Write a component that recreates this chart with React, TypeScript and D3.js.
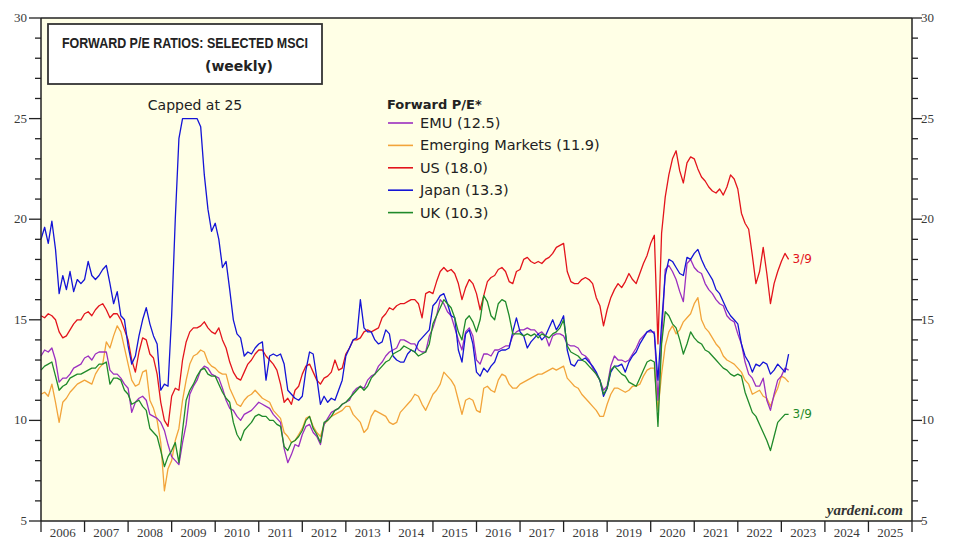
import React from 'react';
import * as d3 from 'd3';

// Monthly readings, Jan 2006 .. Mar 2023
const START_YEAR = 2006;

const emu = [
  13.2, 13.5, 13.4, 13.6, 13.0, 11.9, 12.1, 12.1, 12.3, 12.6, 12.7, 12.8,
  13.1, 13.2, 13.0, 13.3, 13.4, 13.4, 13.4, 12.5, 12.3, 12.3, 12.1, 11.8,
  11.6, 10.4, 10.9, 11.1, 11.2, 11.0, 10.3, 10.2, 10.1, 9.9, 9.5, 8.8,
  8.2, 8.0, 7.8, 8.9, 9.8, 11.3, 11.7, 12.0, 12.5, 12.7, 12.6, 12.3,
  12.2, 12.1, 11.6, 11.0, 10.6, 10.5, 10.2, 10.0, 10.3, 10.4, 10.5, 10.7,
  10.9, 10.8, 10.7, 10.6, 10.3, 10.1, 9.9, 8.6, 7.9, 8.3, 8.8, 8.7,
  9.3, 9.7, 9.8, 9.4, 9.2, 8.8, 9.8, 10.1, 10.4, 10.5, 10.6, 10.8,
  10.9, 11.0, 11.4, 11.6, 11.7, 11.6, 12.0, 12.2, 12.3, 12.7, 12.9, 13.2,
  13.4, 13.5, 13.6, 14.0, 14.0, 13.9, 13.8, 13.8, 13.5, 13.4, 13.4, 14.2,
  14.6, 15.2, 16.0, 15.8, 15.4, 15.2, 14.6, 14.0, 13.5, 14.4, 14.6, 14.2,
  13.0, 12.8, 13.3, 13.3, 13.2, 13.5, 13.5, 13.6, 13.7, 13.7, 14.2, 14.4,
  14.5, 14.5, 14.6, 14.5, 14.5, 14.3, 14.4, 14.2, 13.7, 14.2, 14.3, 14.3,
  14.2, 13.8, 13.7, 13.7, 13.6, 13.3, 13.2, 13.0, 12.6, 12.3, 12.0, 11.5,
  11.7, 12.7, 13.2, 13.0, 13.0, 12.9, 13.0, 13.3, 13.6, 14.0, 14.2, 14.4,
  14.4, 14.4, 11.0, 14.0, 17.5, 17.7, 17.4, 17.0, 16.4, 15.9, 17.8, 18.0,
  17.6, 17.4, 17.3, 16.8, 16.5, 16.3, 16.0, 15.8, 15.7, 15.2, 15.0, 14.9,
  14.3, 13.8, 12.9, 12.3, 12.1, 11.7, 11.7, 12.1, 11.0, 10.5, 11.3, 12.0,
  12.2, 12.6, 12.5,
];

const emergingMarkets = [
  11.3, 11.4, 11.2, 11.8, 10.9, 9.9, 10.9, 11.1, 11.4, 11.6, 11.8, 11.9,
  12.0, 11.9, 11.8, 12.3, 12.6, 12.8, 13.9, 13.6, 14.2, 14.7, 14.4, 13.6,
  12.8, 12.0, 11.7, 11.8, 12.4, 12.5, 11.0, 10.6, 10.0, 8.9, 6.5, 7.6,
  8.0, 9.0, 9.6, 11.0, 12.0, 12.8, 13.2, 13.3, 13.5, 13.4, 12.9, 12.7,
  12.6, 12.4, 12.3, 12.3, 11.6, 11.2, 10.8, 10.7, 11.0, 11.2, 11.3, 11.5,
  11.3, 11.1, 11.0, 10.9, 10.5, 10.3, 10.1, 9.4, 9.2, 8.9, 9.0, 9.3,
  9.6, 10.1, 10.2, 9.7, 9.4, 9.2, 9.8, 10.0, 10.2, 10.3, 10.4, 10.5,
  10.7, 10.7, 10.3, 10.1, 9.9, 9.4, 9.6, 10.2, 10.5, 10.4, 10.3, 10.2,
  9.9, 9.8, 9.9, 10.4, 10.6, 10.8, 11.0, 11.3, 11.2, 10.8, 10.5, 10.9,
  11.3, 11.5, 11.8, 12.4, 12.2, 12.0, 11.7, 11.0, 10.3, 11.0, 11.1, 11.0,
  10.5, 10.4, 11.6, 11.7, 11.5, 11.4, 12.0, 12.3, 12.2, 11.8, 11.6, 11.6,
  11.8, 11.9, 12.0, 12.1, 12.2, 12.3, 12.3, 12.4, 12.5, 12.6, 12.5, 12.6,
  12.7, 12.1, 11.9, 11.7, 11.6, 11.3, 11.1, 10.9, 10.7, 10.5, 10.2, 10.2,
  10.8, 11.3, 11.6, 11.6, 11.5, 11.4, 11.5, 11.7, 11.7, 11.8, 12.2, 12.5,
  12.6, 12.6, 10.5, 12.3, 13.7, 14.4, 14.7, 14.3, 14.5, 14.9, 15.1, 15.3,
  15.8, 16.1, 15.0, 14.6, 14.4, 14.1, 13.8, 13.6, 13.2, 13.0, 12.9, 12.8,
  12.6, 12.4, 12.0, 11.8, 11.3, 11.4, 11.5, 11.2, 11.1, 10.7, 11.2, 11.6,
  12.2, 12.1, 11.9,
];

const us = [
  15.2, 15.1, 15.3, 15.2, 15.0, 14.4, 14.1, 14.2, 14.5, 14.8, 15.0, 15.0,
  15.3, 15.4, 15.2, 15.5, 15.7, 15.8, 15.5, 15.1, 15.3, 15.3, 15.0, 14.5,
  14.0, 13.0, 12.4, 13.4, 14.1, 14.0, 13.3, 13.1, 12.3, 10.9, 10.0, 9.7,
  11.2, 11.6, 11.5, 13.0, 13.9, 14.4, 14.6, 14.6, 14.7, 14.9, 14.6, 14.4,
  14.3, 14.6, 14.0, 13.6, 12.9, 12.4, 12.1, 12.0, 12.4, 12.8, 13.0, 13.3,
  13.5, 13.5, 13.2, 13.0, 12.8, 12.5, 11.8, 10.9, 11.1, 10.8, 11.5, 11.7,
  12.3, 12.7, 12.8, 12.4, 12.0, 11.8, 12.1, 12.2, 12.4, 13.0, 12.5, 12.6,
  13.3, 13.6, 14.0, 14.0, 14.1, 14.4, 14.5, 14.4, 14.5, 14.6, 15.1, 15.3,
  15.6, 15.5, 15.7, 15.8, 15.8, 15.9, 16.0, 16.0, 15.8, 15.1, 16.3, 16.4,
  16.3, 16.9, 17.4, 17.6, 17.4, 17.5, 17.3, 16.8, 16.0, 16.6, 17.0, 16.8,
  16.3, 15.5, 16.2, 16.9, 17.1, 17.2, 17.5, 17.6, 17.4, 16.9, 16.8, 17.4,
  17.5, 18.0, 18.1, 17.9, 17.8, 17.9, 17.8, 18.0, 18.1, 18.3, 18.6, 18.7,
  18.8, 17.4, 16.9, 16.8, 16.8, 17.0, 17.1, 17.0, 16.8, 16.1, 15.7, 14.7,
  15.5, 16.1, 16.5, 16.8, 16.6, 16.9, 17.3, 17.0, 16.8, 17.3, 17.8, 18.2,
  18.8, 19.2, 13.8, 19.3, 21.1, 22.2, 23.0, 23.4, 22.4, 21.8, 22.8, 23.1,
  23.0, 22.5, 22.1, 21.9, 21.6, 21.4, 21.3, 21.5, 21.2, 21.6, 22.2, 22.0,
  21.5, 20.3, 19.8, 19.5, 18.2, 16.8, 17.4, 18.6, 17.3, 15.8, 16.8, 17.4,
  17.9, 18.3, 18.0,
];

const japan = [
  19.0, 19.6, 18.8, 19.9, 18.5, 16.3, 17.2, 16.5, 17.4, 16.4, 17.0, 16.8,
  17.0, 17.9, 17.2, 17.0, 17.2, 17.5, 17.7, 16.8, 15.8, 16.4, 15.2, 15.0,
  13.7, 12.8, 13.2, 14.2, 15.0, 15.6, 14.8, 14.2, 13.8, 11.5, 11.8, 11.7,
  15.2, 20.0, 24.0, 25.0, 25.0, 25.0, 25.0, 25.0, 24.6, 22.2, 20.5, 19.4,
  19.8, 19.0, 17.6, 17.9, 16.5, 15.0, 14.3, 14.1, 13.2, 13.4, 13.3, 13.6,
  13.8, 13.9, 12.0, 13.2, 13.3, 13.2, 13.3, 12.8, 11.5, 11.3, 11.1, 11.0,
  11.2, 12.5, 13.4, 13.3, 12.1, 10.8, 11.2, 10.9, 11.1, 11.0, 11.5, 12.0,
  13.2, 13.6, 14.0, 14.1, 16.0, 14.6, 14.4, 14.4, 14.0, 13.8, 13.9, 14.5,
  14.3, 13.2, 13.0, 12.9, 12.9, 13.3, 13.5, 13.4, 13.9, 14.1, 14.3, 14.5,
  15.7, 15.9, 16.2, 16.3, 15.8, 15.2, 15.1, 13.5, 12.9, 14.3, 14.5, 13.8,
  12.4, 12.2, 12.6, 12.4, 12.7, 12.9, 13.4, 13.5, 13.5, 13.6, 14.4, 15.1,
  14.4, 14.2, 13.6, 13.9, 14.1, 14.3, 14.0, 14.2, 14.6, 15.0, 14.5, 14.8,
  15.2, 13.5, 12.8, 12.7, 13.0, 13.0, 13.1, 12.9, 12.7, 12.4, 12.0, 11.2,
  11.6, 12.4, 12.7, 12.7, 12.8, 12.4, 12.9, 13.2, 13.4, 13.8, 14.1, 14.4,
  14.5, 14.3, 12.0, 14.8, 17.2, 18.0, 17.9, 17.6, 17.3, 17.2, 18.1, 18.0,
  18.3, 18.5, 18.0, 17.6, 17.3, 17.0, 16.5, 16.3, 15.9, 15.5, 15.2, 15.0,
  14.8, 13.8, 13.2, 12.9, 12.4, 12.8, 12.7, 12.9, 12.8, 12.3, 12.5, 12.8,
  12.6, 12.4, 13.3,
];

const uk = [
  12.5, 12.7, 12.8, 12.9, 12.2, 11.5, 11.7, 11.8, 12.1, 12.2, 12.3, 12.3,
  12.4, 12.5, 12.6, 12.6, 12.8, 12.8, 12.9, 11.8, 12.1, 12.1, 12.0, 11.5,
  11.3, 10.8, 10.9, 11.0, 10.7, 10.5, 9.6, 9.4, 9.2, 8.5, 7.7, 8.2,
  8.5, 8.9, 7.9, 9.5, 11.0, 11.5, 11.8, 12.2, 12.5, 12.6, 12.3, 12.2,
  12.2, 11.8, 11.4, 11.1, 10.9, 9.9, 9.3, 9.0, 9.5, 9.7, 9.9, 10.2,
  10.3, 10.2, 10.2, 10.0, 10.0, 9.8, 9.7, 8.7, 8.5, 8.9, 9.0, 9.2,
  9.5, 10.0, 10.2, 9.6, 9.3, 8.9, 9.9, 10.0, 10.2, 10.5, 10.6, 10.8,
  10.9, 11.1, 11.3, 11.5, 11.7, 11.5, 11.7, 12.1, 12.3, 12.5, 12.7, 12.9,
  13.0, 13.3, 13.4, 13.5, 13.7, 13.6, 13.5, 13.4, 13.2, 13.3, 13.4, 13.8,
  14.8, 15.2, 15.6, 16.0, 15.8, 15.6, 15.1, 14.4, 14.0, 15.0, 15.2, 14.9,
  14.4, 15.0, 16.2, 15.9, 15.2, 15.0, 15.8, 16.0, 15.9, 15.2, 14.3, 14.3,
  14.3, 14.2, 14.3, 14.2, 14.3, 14.1, 14.3, 14.2, 14.1, 14.3, 14.4, 14.6,
  15.0, 13.7, 13.4, 13.3, 13.2, 13.0, 12.9, 12.7, 12.5, 12.3, 12.0, 11.3,
  11.6, 12.5, 12.7, 12.5, 12.3, 12.2, 11.9, 11.8, 11.7, 12.1, 12.5, 12.9,
  13.0, 12.9, 9.7, 13.8, 15.4, 15.2, 14.8, 14.6, 14.0, 13.3, 13.8, 14.4,
  14.1, 13.9, 13.8, 13.5, 13.4, 13.2, 13.0, 12.8, 12.6, 12.5, 12.3, 12.2,
  12.3, 12.2, 11.4, 10.9, 10.4, 10.2, 9.8, 9.4, 9.0, 8.5, 9.2, 9.9,
  10.1, 10.3, 10.3,
];

const yearLabels = d3.range(2006, 2026).map(String);
const yTicksMajor = [5, 10, 15, 20, 25, 30];
const yTicksMinor = d3.range(5, 31, 1);

const legendTitle = 'Forward P/E*';
const seriesNames = ['EMU (12.5)', 'Emerging Markets (11.9)', 'US (18.0)', 'Japan (13.3)', 'UK (10.3)'];
const seriesColors = ['#9b2fc0', '#f2a43a', '#e3141c', '#1414d6', '#1f8a2a'];
const seriesValues = [emu, emergingMarkets, us, japan, uk];
const drawOrder = [2, 1, 0, 3, 4];

export default function App() {
  const W = 956;
  const H = 540;
  const left = 41;
  const right = 912;
  const top = 18;
  const bottom = 521;

  const x = d3.scaleLinear().domain([2006, 2026]).range([left, right]);
  const y = d3.scaleLinear().domain([5, 30]).range([bottom, top]);
  const t = (i: number) => START_YEAR + i / 12;
  const line = d3
    .line<number>()
    .x((_, i) => x(t(i)))
    .y((d) => y(d));

  const sans = '"DejaVu Sans", Verdana, sans-serif';
  const arial = 'Arial, "Liberation Sans", Helvetica, sans-serif';
  const serif = '"Times New Roman", "Liberation Serif", Times, serif';
  const axisColor = '#222';
  const labelColor = '#3a3a3a';

  const lastUs = us.length - 1;
  const lastUk = uk.length - 1;

  return (
    <svg
      width={W}
      height={H}
      viewBox={`0 0 ${W} ${H}`}
      style={{ position: 'absolute', left: 0, top: 0, display: 'block', background: '#fff' }}
    >
      <rect x={0} y={0} width={W} height={H} fill="#ffffff" />
      <rect x={left} y={top} width={right - left} height={bottom - top} fill="#ffffe6" />

      {/* series */}
      {drawOrder.map((k) => (
        <path
          key={seriesNames[k]}
          d={line(seriesValues[k]) || ''}
          fill="none"
          stroke={seriesColors[k]}
          strokeWidth={1.3}
          strokeLinejoin="round"
        />
      ))}

      {/* frame */}
      <line x1={left} x2={right} y1={top} y2={top} stroke={axisColor} strokeWidth={1.5} />
      <line x1={left} x2={right} y1={bottom} y2={bottom} stroke={axisColor} strokeWidth={1.5} />
      <line x1={left} x2={left} y1={top} y2={bottom} stroke={axisColor} strokeWidth={1.5} />
      <line x1={right} x2={right} y1={top} y2={bottom} stroke={axisColor} strokeWidth={1.5} />

      {/* y ticks */}
      {yTicksMinor.map((v) => {
        const major = v % 5 === 0;
        return (
          <g key={'yt' + v}>
            <line x1={major ? left - 12 : left - 6} x2={left} y1={y(v)} y2={y(v)} stroke={axisColor} strokeWidth={1.3} />
            <line x1={right} x2={major ? right + 10 : right + 6} y1={y(v)} y2={y(v)} stroke={axisColor} strokeWidth={1.3} />
          </g>
        );
      })}
      {yTicksMajor.map((v) => (
        <g key={'yl' + v} fontFamily={serif} fontSize={13} fill={labelColor}>
          <text x={27} y={y(v) + 4} textAnchor="end">{v}</text>
          <text x={921} y={y(v) + 4} textAnchor="start">{v}</text>
        </g>
      ))}

      {/* x ticks */}
      {d3.range(2006, 2027).map((yr) => (
        <line key={'xt' + yr} x1={x(yr)} x2={x(yr)} y1={bottom} y2={bottom + 11} stroke={axisColor} strokeWidth={1.3} />
      ))}
      {yearLabels.map((lab, i) => (
        <text
          key={'xl' + lab}
          x={x(2006 + i + 0.5)}
          y={537}
          textAnchor="middle"
          fontFamily={serif}
          fontSize={13}
          fill={labelColor}
        >
          {lab}
        </text>
      ))}

      {/* title box */}
      <rect x={48} y={24} width={274} height={60} fill="#ffffff" stroke="#333" strokeWidth={1.8} />
      <text
        x={62}
        y={48}
        fontFamily={arial}
        fontWeight="bold"
        fontSize={15}
        fill="#222"
        textLength={246}
        lengthAdjust="spacingAndGlyphs"
      >
        FORWARD P/E RATIOS: SELECTED MSCI
      </text>
      <text x={205} y={71} fontFamily={sans} fontWeight="bold" fontSize={14} fill="#222">
        (weekly)
      </text>

      {/* capped note */}
      <text x={195} y={110} textAnchor="middle" fontFamily={sans} fontSize={14} fill="#222">
        Capped at 25
      </text>

      {/* legend */}
      <text x={387} y={109} fontFamily={sans} fontWeight="bold" fontSize={13} fill="#222">
        {legendTitle}
      </text>
      {seriesNames.map((name, i) => {
        const by = 128 + i * 22.4;
        return (
          <g key={'lg' + name}>
            <line x1={388} x2={413} y1={by - 5} y2={by - 5} stroke={seriesColors[i]} strokeWidth={1.6} />
            <text x={420} y={by} fontFamily={sans} fontSize={14.5} fill="#222">
              {name}
            </text>
          </g>
        );
      })}

      {/* end labels */}
      <text x={x(t(lastUs)) + 4} y={y(us[lastUs]) + 4} fontFamily={sans} fontSize={12} fill={seriesColors[2]}>
        3/9
      </text>
      <text x={x(t(lastUk)) + 4} y={y(uk[lastUk]) + 4} fontFamily={sans} fontSize={12} fill={seriesColors[4]}>
        3/9
      </text>

      {/* source */}
      <text x={903} y={515} textAnchor="end" fontFamily={serif} fontStyle="italic" fontWeight="bold" fontSize={15} fill="#333">
        yardeni.com
      </text>
    </svg>
  );
}
